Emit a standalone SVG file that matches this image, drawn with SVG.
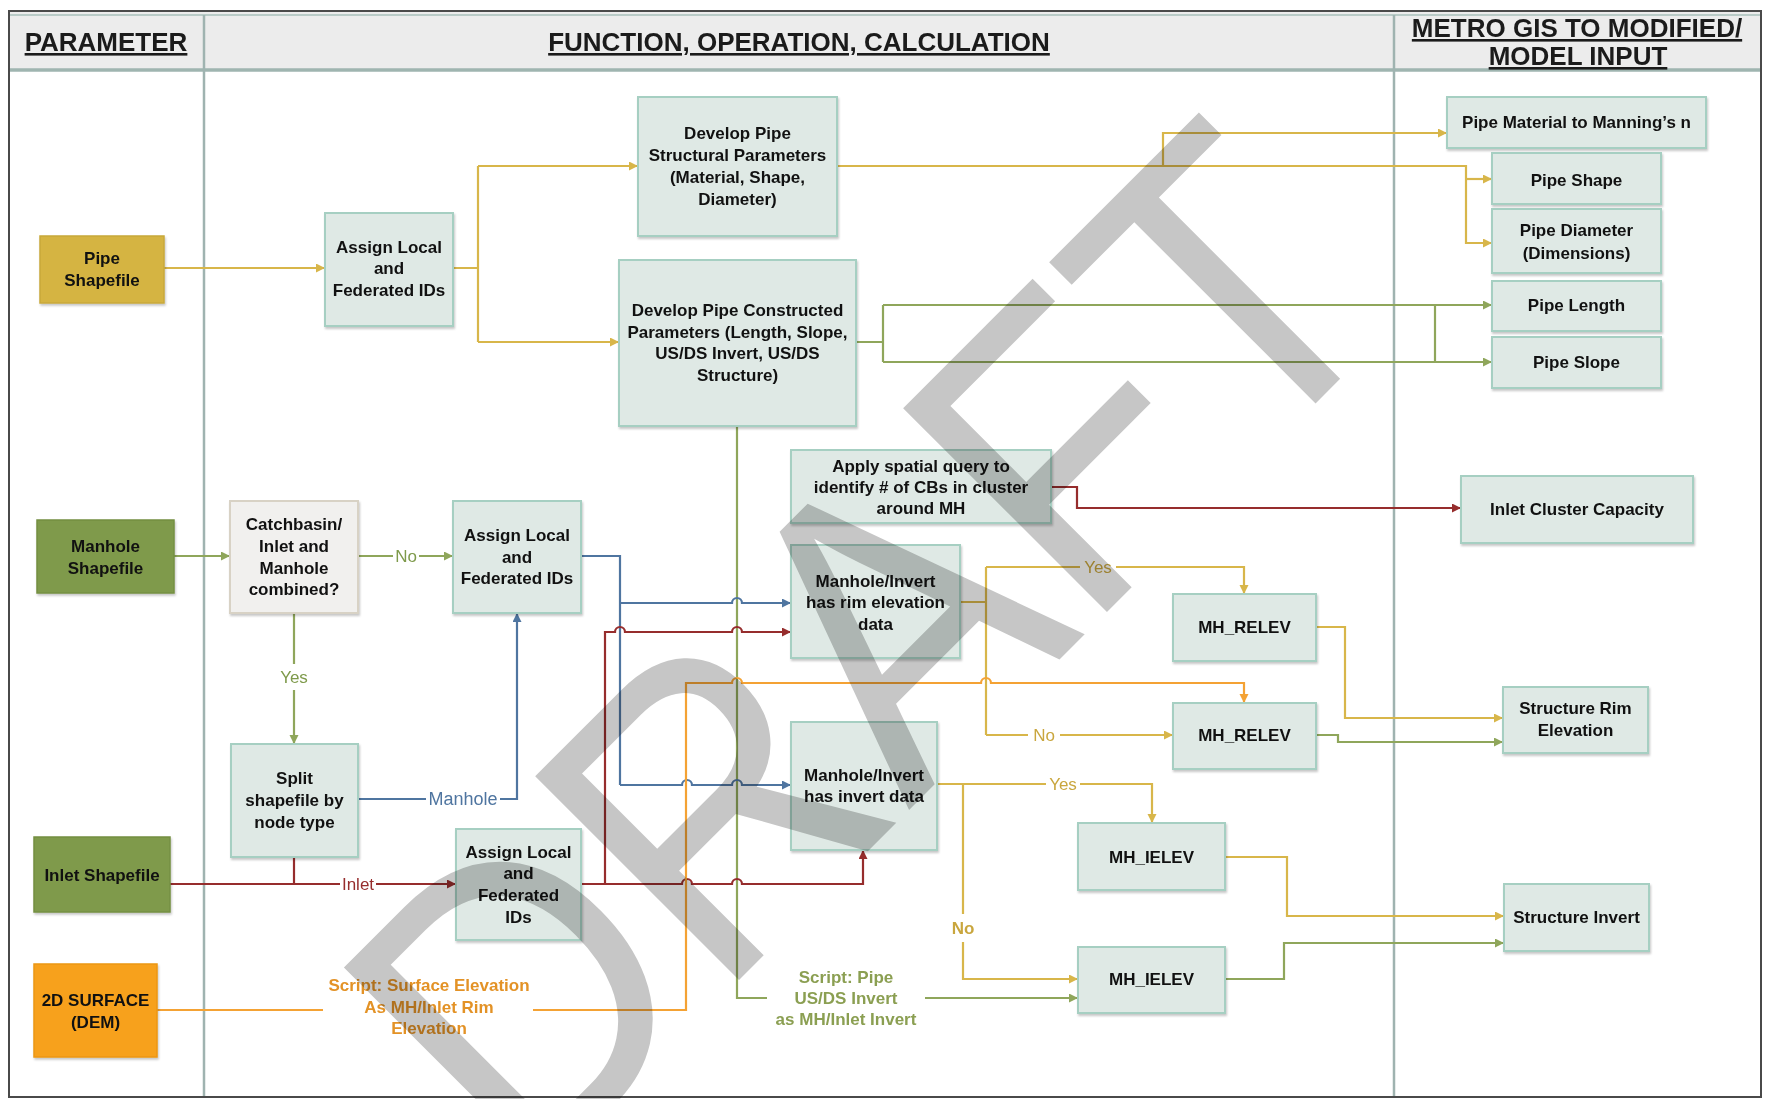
<svg xmlns="http://www.w3.org/2000/svg" width="1767" height="1099" viewBox="0 0 1767 1099">
<style>
text{font-family:"Liberation Sans",Arial,sans-serif}
.hd{font-size:26px;font-weight:bold;text-anchor:middle;fill:#1b1b1b;text-decoration:underline}
.nt{font-size:17px;font-weight:bold;text-anchor:middle;fill:#111}
.nd{fill:#dfe9e5;stroke:#a6cfc2;stroke-width:2;filter:url(#sh)}
.cb{fill:#f1f0ee;stroke:#d8d2c5;stroke-width:2;filter:url(#sh)}
.c{fill:none;stroke-width:2.2;stroke-linejoin:miter}
.g{stroke:#d8b64a}.o{stroke:#8fa65b}.b{stroke:#4f75a0}.r{stroke:#962d2d}.or{stroke:#f4a234}
.lb{font-size:17px;text-anchor:middle}
.sl{font-size:17px;font-weight:bold;text-anchor:middle}
</style>
<defs>
<filter id="sh" x="-10%" y="-10%" width="120%" height="130%"><feDropShadow dx="1" dy="2" stdDeviation="1.2" flood-color="#000" flood-opacity="0.22"/></filter>
<marker id="mg" markerUnits="userSpaceOnUse" markerWidth="10" markerHeight="10" refX="9" refY="4.5" orient="auto"><path d="M0,0 L9,4.5 L0,9 z" fill="#d8b64a"/></marker>
<marker id="mo" markerUnits="userSpaceOnUse" markerWidth="10" markerHeight="10" refX="9" refY="4.5" orient="auto"><path d="M0,0 L9,4.5 L0,9 z" fill="#8fa65b"/></marker>
<marker id="mb" markerUnits="userSpaceOnUse" markerWidth="10" markerHeight="10" refX="9" refY="4.5" orient="auto"><path d="M0,0 L9,4.5 L0,9 z" fill="#4f75a0"/></marker>
<marker id="mr" markerUnits="userSpaceOnUse" markerWidth="10" markerHeight="10" refX="9" refY="4.5" orient="auto"><path d="M0,0 L9,4.5 L0,9 z" fill="#962d2d"/></marker>
<marker id="mor" markerUnits="userSpaceOnUse" markerWidth="10" markerHeight="10" refX="9" refY="4.5" orient="auto"><path d="M0,0 L9,4.5 L0,9 z" fill="#f4a234"/></marker>
</defs>
<rect width="1767" height="1099" fill="#fff"/>
<g id="frame">
<rect x="10" y="12" width="1750" height="58" fill="#ececec"/>
<line x1="10" y1="15" x2="1760" y2="15" stroke="#b9cbc7" stroke-width="2"/>
<line x1="10" y1="70" x2="1760" y2="70" stroke="#9fb5b0" stroke-width="3.5"/>
<line x1="204" y1="15" x2="204" y2="1097" stroke="#9fb3b0" stroke-width="2.5"/>
<line x1="1394" y1="15" x2="1394" y2="1097" stroke="#9fb3b0" stroke-width="2.5"/>
<rect x="9" y="11" width="1752" height="1086" fill="none" stroke="#4a4a4a" stroke-width="2"/>
<text class="hd" x="106" y="51">PARAMETER</text>
<text class="hd" x="799" y="51">FUNCTION, OPERATION, CALCULATION</text>
<text class="hd" x="1577" y="37">METRO GIS TO MODIFIED/</text>
<text class="hd" x="1578" y="65">MODEL INPUT</text>
</g>
<g id="connectors">
<path class="c g" d="M164,268 H325" marker-end="url(#mg)"/>
<path class="c g" d="M453,268 H478 M478,166 V342"/>
<path class="c g" d="M478,166 H638" marker-end="url(#mg)"/>
<path class="c g" d="M478,342 H619" marker-end="url(#mg)"/>
<path class="c g" d="M837,166 H1466 V243 H1492" marker-end="url(#mg)"/>
<path class="c g" d="M1466,179 H1492" marker-end="url(#mg)"/>
<path class="c g" d="M1163,166 V133 H1447" marker-end="url(#mg)"/>
<path class="c g" d="M960,602 H986 M986,567 V735"/>
<path class="c g" d="M986,567 H1080 M1116,567 H1244 V594" marker-end="url(#mg)"/>
<path class="c g" d="M986,735 H1028 M1060,735 H1173" marker-end="url(#mg)"/>
<path class="c g" d="M1316,627 H1345 V718 H1503" marker-end="url(#mg)"/>
<path class="c g" d="M937,784 H1046 M1080,784 H1152 V823" marker-end="url(#mg)"/>
<path class="c g" d="M963,784 V914 M963,942 V979 H1078" marker-end="url(#mg)"/>
<path class="c g" d="M1225,857 H1287 V916 H1504" marker-end="url(#mg)"/>
<path class="c o" d="M856,342 H883 M883,305 V362 M1435,305 V362"/>
<path class="c o" d="M883,305 H1492" marker-end="url(#mo)"/>
<path class="c o" d="M883,362 H1492" marker-end="url(#mo)"/>
<path class="c o" d="M737,426 V998 H767 M925,998 H1078" marker-end="url(#mo)"/>
<path class="c o" d="M174,556 H230" marker-end="url(#mo)"/>
<path class="c o" d="M358,556 H393 M419,556 H453" marker-end="url(#mo)"/>
<path class="c o" d="M294,613 V664 M294,690 V744" marker-end="url(#mo)"/>
<path class="c o" d="M1316,735 H1338 V742 H1503" marker-end="url(#mo)"/>
<path class="c o" d="M1225,979 H1284 V943 H1504" marker-end="url(#mo)"/>
<path class="c b" d="M581,556 H620 V785"/>
<path class="c b" d="M620,603 H732 a5,5 0 0 1 10,0 H791" marker-end="url(#mb)"/>
<path class="c b" d="M620,785 H682 a5,5 0 0 1 10,0 H732 a5,5 0 0 1 10,0 H791" marker-end="url(#mb)"/>
<path class="c b" d="M358,799 H426 M500,799 H517 V613" marker-end="url(#mb)"/>
<path class="c r" d="M170,884 H340 M376,884 H456" marker-end="url(#mr)"/>
<path class="c r" d="M294,857 V884"/>
<path class="c r" d="M581,884 H682 a5,5 0 0 1 10,0 H732 a5,5 0 0 1 10,0 H863 V850" marker-end="url(#mr)"/>
<path class="c r" d="M605,884 V632 H615 a5,5 0 0 1 10,0 H732 a5,5 0 0 1 10,0 H791" marker-end="url(#mr)"/>
<path class="c r" d="M1051,487 H1077 V508 H1461" marker-end="url(#mr)"/>
<path class="c or" d="M157,1010 H323 M533,1010 H686 V683 H732 a5,5 0 0 1 10,0 H981 a5,5 0 0 1 10,0 H1244 V703" marker-end="url(#mor)"/>
<text class="lb" x="406" y="562" fill="#7e9a4b">No</text>
<text class="lb" x="294" y="683" fill="#7e9a4b">Yes</text>
<text class="lb" x="463" y="805" fill="#4f75a0" style="font-size:18px">Manhole</text>
<text class="lb" x="358" y="890" fill="#962d2d">Inlet</text>
<text class="lb" x="1098" y="573" fill="#c9a63e">Yes</text>
<text class="lb" x="1044" y="741" fill="#c9a63e">No</text>
<text class="lb" x="1063" y="790" fill="#c9a63e">Yes</text>
<text class="sl" x="963" y="934" fill="#c9a63e">No</text>
<text class="sl" fill="#e39226"><tspan x="429" y="991">Script: Surface Elevation</tspan><tspan x="429" y="1013">As MH/Inlet Rim</tspan><tspan x="429" y="1034">Elevation</tspan></text>
<text class="sl" fill="#8b9f52"><tspan x="846" y="983">Script: Pipe</tspan><tspan x="846" y="1004">US/DS Invert</tspan><tspan x="846" y="1025">as MH/Inlet Invert</tspan></text>
</g>
<g id="pipe_shapefile"><rect x="40" y="236" width="124" height="67" fill="#d5b443" stroke="#c8a83a" stroke-width="1.5" filter="url(#sh)"/><text class="nt"><tspan x="102" y="264">Pipe</tspan><tspan x="102" y="286">Shapefile</tspan></text></g>
<g id="assign_ids_pipe"><rect class="nd" x="325" y="213" width="128" height="113"/><text class="nt"><tspan x="389" y="253">Assign Local</tspan><tspan x="389" y="274">and</tspan><tspan x="389" y="296">Federated IDs</tspan></text></g>
<g id="pipe_structural"><rect class="nd" x="638" y="97" width="199" height="139"/><text class="nt"><tspan x="737.5" y="139">Develop Pipe</tspan><tspan x="737.5" y="161">Structural Parameters</tspan><tspan x="737.5" y="183">(Material, Shape,</tspan><tspan x="737.5" y="205">Diameter)</tspan></text></g>
<g id="pipe_constructed"><rect class="nd" x="619" y="260" width="237" height="166"/><text class="nt"><tspan x="737.5" y="316">Develop Pipe Constructed</tspan><tspan x="737.5" y="338">Parameters (Length, Slope,</tspan><tspan x="737.5" y="359">US/DS Invert, US/DS</tspan><tspan x="737.5" y="381">Structure)</tspan></text></g>
<g id="pipe_material"><rect class="nd" x="1447" y="97" width="259" height="51"/><text class="nt" x="1576.5" y="128">Pipe Material to Manning’s n</text></g>
<g id="pipe_shape"><rect class="nd" x="1492" y="153" width="169" height="51"/><text class="nt" x="1576.5" y="186">Pipe Shape</text></g>
<g id="pipe_diameter"><rect class="nd" x="1492" y="209" width="169" height="64"/><text class="nt"><tspan x="1576.5" y="236">Pipe Diameter</tspan><tspan x="1576.5" y="259">(Dimensions)</tspan></text></g>
<g id="pipe_length"><rect class="nd" x="1492" y="281" width="169" height="50"/><text class="nt" x="1576.5" y="311">Pipe Length</text></g>
<g id="pipe_slope"><rect class="nd" x="1492" y="337" width="169" height="51"/><text class="nt" x="1576.5" y="368">Pipe Slope</text></g>
<g id="manhole_shapefile"><rect x="37" y="520" width="137" height="73" fill="#7f9a4b" stroke="#748f42" stroke-width="1.5" filter="url(#sh)"/><text class="nt"><tspan x="105.5" y="552">Manhole</tspan><tspan x="105.5" y="574">Shapefile</tspan></text></g>
<g id="combined_decision"><rect class="cb" x="230" y="501" width="128" height="112"/><text class="nt"><tspan x="294" y="530">Catchbasin/</tspan><tspan x="294" y="552">Inlet and</tspan><tspan x="294" y="574">Manhole</tspan><tspan x="294" y="595">combined?</tspan></text></g>
<g id="assign_ids_manhole"><rect class="nd" x="453" y="501" width="128" height="112"/><text class="nt"><tspan x="517" y="541">Assign Local</tspan><tspan x="517" y="563">and</tspan><tspan x="517" y="584">Federated IDs</tspan></text></g>
<g id="split_shapefile"><rect class="nd" x="231" y="744" width="127" height="113"/><text class="nt"><tspan x="294.5" y="784">Split</tspan><tspan x="294.5" y="806">shapefile by</tspan><tspan x="294.5" y="828">node type</tspan></text></g>
<g id="inlet_shapefile"><rect x="34" y="837" width="136" height="75" fill="#7f9a4b" stroke="#748f42" stroke-width="1.5" filter="url(#sh)"/><text class="nt" x="102" y="881">Inlet Shapefile</text></g>
<g id="assign_ids_inlet"><rect class="nd" x="456" y="829" width="125" height="111"/><text class="nt"><tspan x="518.5" y="858">Assign Local</tspan><tspan x="518.5" y="879">and</tspan><tspan x="518.5" y="901">Federated</tspan><tspan x="518.5" y="923">IDs</tspan></text></g>
<g id="surface_dem"><rect x="34" y="964" width="123" height="93" fill="#f7a11f" stroke="#ec9616" stroke-width="1.5" filter="url(#sh)"/><text class="nt"><tspan x="95.5" y="1006">2D SURFACE</tspan><tspan x="95.5" y="1028">(DEM)</tspan></text></g>
<g id="spatial_query"><rect class="nd" x="791" y="450" width="260" height="73"/><text class="nt"><tspan x="921" y="472">Apply spatial query to</tspan><tspan x="921" y="493">identify # of CBs in cluster</tspan><tspan x="921" y="514">around MH</tspan></text></g>
<g id="inlet_cluster_capacity"><rect class="nd" x="1461" y="476" width="232" height="67"/><text class="nt" x="1577" y="515">Inlet Cluster Capacity</text></g>
<g id="has_rim"><rect class="nd" x="791" y="545" width="169" height="113"/><text class="nt"><tspan x="875.5" y="587">Manhole/Invert</tspan><tspan x="875.5" y="608">has rim elevation</tspan><tspan x="875.5" y="630">data</tspan></text></g>
<g id="has_invert"><rect class="nd" x="791" y="722" width="146" height="128"/><text class="nt"><tspan x="864" y="781">Manhole/Invert</tspan><tspan x="864" y="802">has invert data</tspan></text></g>
<g id="mh_relev_yes"><rect class="nd" x="1173" y="594" width="143" height="67"/><text class="nt" x="1244.5" y="633">MH_RELEV</text></g>
<g id="mh_relev_no"><rect class="nd" x="1173" y="703" width="143" height="66"/><text class="nt" x="1244.5" y="741">MH_RELEV</text></g>
<g id="structure_rim"><rect class="nd" x="1503" y="687" width="145" height="66"/><text class="nt"><tspan x="1575.5" y="714">Structure Rim</tspan><tspan x="1575.5" y="736">Elevation</tspan></text></g>
<g id="mh_ielev_yes"><rect class="nd" x="1078" y="823" width="147" height="67"/><text class="nt" x="1151.5" y="863">MH_IELEV</text></g>
<g id="mh_ielev_no"><rect class="nd" x="1078" y="947" width="147" height="66"/><text class="nt" x="1151.5" y="985">MH_IELEV</text></g>
<g id="structure_invert"><rect class="nd" x="1504" y="884" width="145" height="67"/><text class="nt" x="1576.5" y="923">Structure Invert</text></g>
<text x="0" y="0" font-size="419" fill="#c6c6c6" style="mix-blend-mode:multiply" transform="translate(526,1193) rotate(-45) scale(0.894,1)">DRAFT</text>
</svg>
